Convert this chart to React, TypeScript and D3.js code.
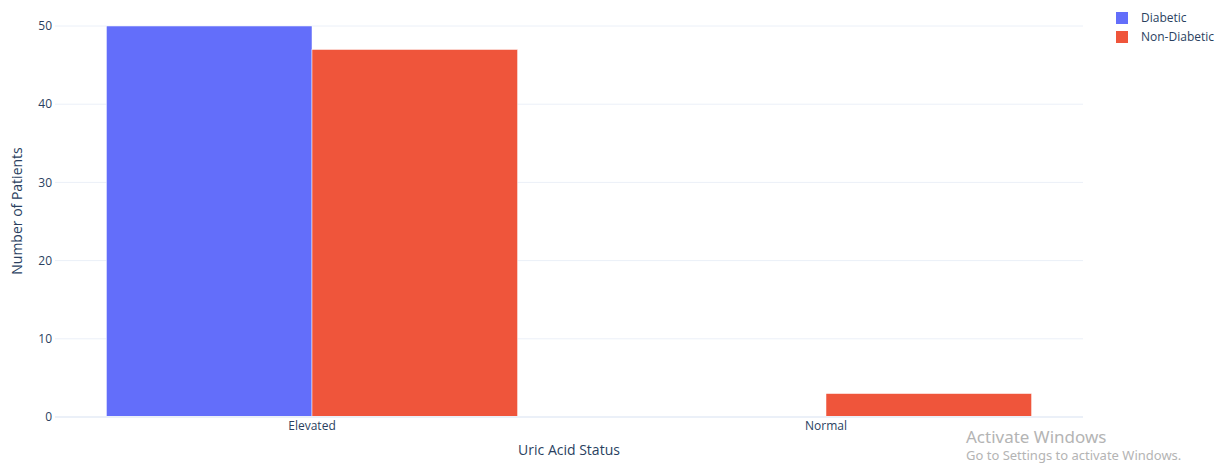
import React from "react";
import * as d3 from "d3";

const categories = ["Elevated", "Normal"];
const seriesNames = ["Diabetic", "Non-Diabetic"];
const diabeticValues = [50, 0];
const nonDiabeticValues = [47, 3];
const yTicks = [0, 10, 20, 30, 40, 50];
const colors = ["#636EFA", "#EF553B"];

const W = 1228;
const H = 465;

export default function App() {
  const x0 = 55, x1 = 1083, y0 = 417, yTop = 26;
  const y = d3.scaleLinear().domain([0, 50]).range([y0, yTop]);
  const xBand = d3.scaleBand<string>().domain(categories).range([x0, x1]).paddingInner(0.2).paddingOuter(0.1);
  const xInner = d3.scaleBand<string>().domain(seriesNames).range([0, xBand.bandwidth()]);
  const series = [diabeticValues, nonDiabeticValues];
  const font = "'Open Sans', sans-serif";
  const textColor = "#2a3f5f";
  return (
    <svg width={W} height={H} style={{ position: "absolute", left: 0, top: 0, background: "#fff" }}>
      {yTicks.filter((t) => t !== 0).map((t) => (
        <line key={t} x1={x0} x2={x1} y1={y(t)} y2={y(t)} stroke="#EBF0F8" strokeWidth={1} />
      ))}
      {series.map((vals, si) =>
        vals.map((v, ci) =>
          v > 0 ? (
            <rect
              key={`${si}-${ci}`}
              x={(xBand(categories[ci]) as number) + (xInner(seriesNames[si]) as number)}
              y={y(v)}
              width={xInner.bandwidth()}
              height={y0 - y(v)}
              fill={colors[si]}
              stroke="#fff"
              strokeWidth={0.5}
            />
          ) : null
        )
      )}
      <line x1={x0} x2={x1} y1={y(0)} y2={y(0)} stroke="#EBF0F8" strokeWidth={2} />
      {yTicks.map((t) => (
        <text key={t} x={x0 - 3} y={y(t)} dy="0.35em" textAnchor="end" fontFamily={font} fontSize={12} fill={textColor}>
          {t}
        </text>
      ))}
      {categories.map((c) => (
        <text key={c} x={(xBand(c) as number) + xBand.bandwidth() / 2} y={430} textAnchor="middle" fontFamily={font} fontSize={12} fill={textColor}>
          {c}
        </text>
      ))}
      <text x={(x0 + x1) / 2} y={455} textAnchor="middle" fontFamily={font} fontSize={14} fill={textColor}>
        Uric Acid Status
      </text>
      <text transform={`translate(22,${(y0 + 5) / 2}) rotate(-90)`} textAnchor="middle" fontFamily={font} fontSize={14} fill={textColor}>
        Number of Patients
      </text>
      {seriesNames.map((s, i) => (
        <g key={s} transform={`translate(1116,${18 + i * 19})`}>
          <rect x={0} y={-6} width={12} height={12} fill={colors[i]} />
          <text x={25} y={0} dy="0.35em" fontFamily={font} fontSize={12} fill={textColor}>
            {s}
          </text>
        </g>
      ))}
      <text x={966} y={443} fontFamily="'Noto Sans', sans-serif" fontSize={17} fill="#b4b4b4">
        Activate Windows
      </text>
      <text x={966} y={460} fontFamily="'Noto Sans', sans-serif" fontSize={13} fill="#b4b4b4">
        Go to Settings to activate Windows.
      </text>
    </svg>
  );
}
